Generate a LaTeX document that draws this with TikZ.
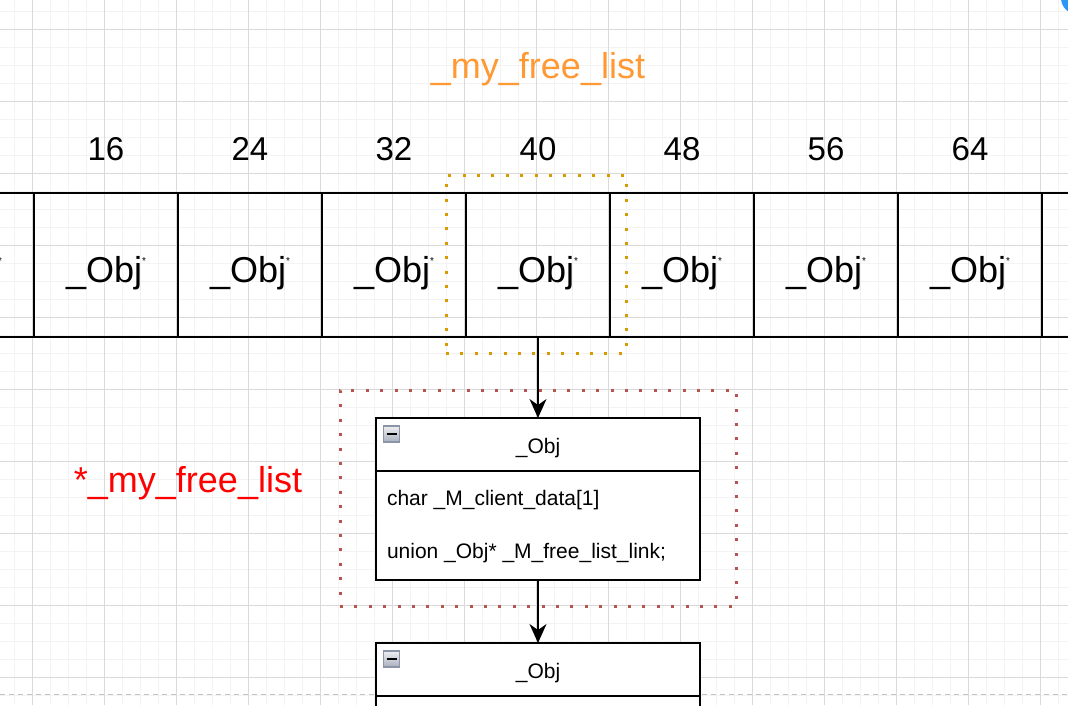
\documentclass[tikz,border=0pt]{standalone}
\usepackage{fontspec}
\setmainfont{Liberation Sans}
\newcommand*{\bigfont}{\fontsize{36}{36}\selectfont}
\newcommand*{\numfont}{\fontsize{33}{33}\selectfont}
\newcommand*{\boxfont}{\fontsize{21}{21}\selectfont}
\newcommand*{\starfont}{\fontsize{10}{10}\selectfont}
\newcommand*{\ptr}{\raisebox{18pt}{\starfont *}}
\definecolor{O}{HTML}{FF9933}
\definecolor{R}{HTML}{FF0000}
\definecolor{D}{HTML}{D79B00}
\definecolor{M}{HTML}{B85450}
\definecolor{G}{HTML}{DADADA}
\definecolor{L}{HTML}{F3F3F3}
\definecolor{K}{HTML}{C4C4C4}
\definecolor{U}{HTML}{2B95F8}
\definecolor{I}{HTML}{8C94A8}
\usepackage{tikz}
\usetikzlibrary{arrows.meta}
\usetikzlibrary{positioning}
\tikzstyle{base}=[x=1pt, y=-1pt, inner sep=0pt, outer sep=0pt]
\tikzstyle{cell}=[draw=black, line width=1.5pt, minimum width=144pt, minimum height=144pt, text height=36pt, text depth=2pt, font=\bigfont]
\tikzstyle{num}=[anchor=base, font=\numfont]
\tikzstyle{frame}=[line width=3pt, dash pattern=on 3pt off 11.4pt]
\tikzstyle{objbox}=[draw=black, fill=white, line width=1.5pt, minimum width=324pt, minimum height=162pt]
\tikzstyle{field}=[anchor=base west, font=\boxfont]
\tikzstyle{minbox}=[draw=I, line width=1.2pt, top color=I!15, bottom color=I!75, minimum size=16pt]
\tikzstyle{link}=[line width=1.5pt, -{Stealth[length=19pt, width=17pt, inset=6pt]}]

\begin{document}
\begin{tikzpicture}[base]
    \path [use as bounding box] (0,0) rectangle (1068,705);
    \clip (0,0) rectangle (1068,705);
    \foreach \x in {14,32,...,1068} \draw [L, line width=1pt] (\x,0) -- (\x,705);
    \foreach \y in {11,29,...,705} \draw [L, line width=1pt] (0,\y) -- (1068,\y);
    \foreach \x in {32,104,...,1068} \draw [G, line width=1pt] (\x,0) -- (\x,705);
    \foreach \y in {29,101,...,705} \draw [G, line width=1pt] (0,\y) -- (1068,\y);
    \draw [K, line width=1pt, dash pattern=on 5pt off 4pt] (0,694) -- (1068,694);
    \fill [U] (1077,-2) circle (16);

    \node [anchor=base, font=\bigfont, text=O] (title) at (538,78) {\_my\_free\_list};
    \node [cell] (c8) at (-38,265) {\_Obj\ptr};
    \foreach \n [count=\i from 0] in {16,24,32,40,48,56,64} {
        \node [cell] (c\n) at ({106+144*\i},265) {\_Obj\ptr};
        \node [num] (n\n) at ({106+144*\i},160) {\n};
    }
    \node [cell] (c72) at (1114,265) {\_Obj\ptr};
    \node [frame, draw=D, minimum width=180pt, minimum height=178pt] (sel) at (536,264) {};

    \node [anchor=base, font=\bigfont, text=R] (head) at (188,492) {*\_my\_free\_list};
    \node [frame, draw=M, minimum width=396pt, minimum height=216pt] (node) at (538,498) {};

    \node [objbox] (obj1) at (538,499) {};
    \draw [line width=1.5pt] ([yshift=-53pt]obj1.north west) -- ([yshift=-53pt]obj1.north east);
    \node [anchor=base, font=\boxfont] (name1) at (538,453) {\_Obj};
    \node [field] (data) at (387,505) {char \_M\_client\_data[1]};
    \node [field] (link) at (387,558) {union \_Obj* \_M\_free\_list\_link;};
    \node [minbox] (m1) at (391.5,434) {};
    \draw [line width=2.5pt] ([xshift=-5pt]m1.center) -- ([xshift=5pt]m1.center);

    \node [objbox] (obj2) at (538,724) {};
    \draw [line width=1.5pt] ([yshift=-53pt]obj2.north west) -- ([yshift=-53pt]obj2.north east);
    \node [anchor=base, font=\boxfont] (name2) at (538,678) {\_Obj};
    \node [minbox] (m2) at (391.5,659) {};
    \draw [line width=2.5pt] ([xshift=-5pt]m2.center) -- ([xshift=5pt]m2.center);

    \draw [link] (c40) -- (obj1);
    \draw [link] (obj1) -- (obj2);
\end{tikzpicture}
\end{document}
